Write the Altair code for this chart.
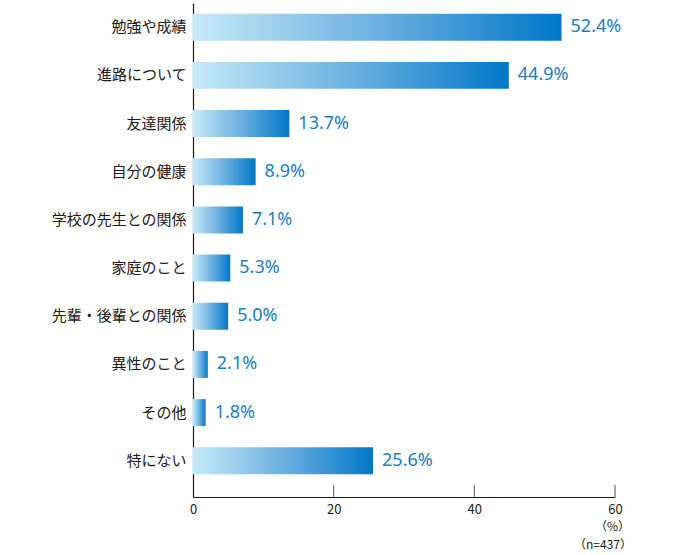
import altair as alt
import pandas as pd

categories = ["勉強や成績", "進路について", "友達関係", "自分の健康", "学校の先生との関係",
              "家庭のこと", "先輩・後輩との関係", "異性のこと", "その他", "特にない"]
values = [52.4, 44.9, 13.7, 8.9, 7.1, 5.3, 5.0, 2.1, 1.8, 25.6]
x_tick_labels = [0, 20, 40, 60]
x_tick_marks = [20, 40, 60]
notes = ["（%）", "（n=437）"]

W, H = 422, 494

df = pd.DataFrame({
    "cat": categories,
    "val": values,
    "label": [f"{v:.1f}%" for v in values],
})
ticks_df = pd.DataFrame({"t": x_tick_marks})

grad = alt.LinearGradient(
    gradient="linear",
    stops=[
        alt.GradientStop(color="#c6eaf8", offset=0),
        alt.GradientStop(color="#6cb0e0", offset=0.5),
        alt.GradientStop(color="#0077c8", offset=1),
    ],
    x1=0, x2=1, y1=0, y2=0,
)

y_enc = alt.Y(
    "cat:N", sort=categories,
    scale=alt.Scale(paddingInner=0.44, paddingOuter=0.347, align=0.32),
    axis=alt.Axis(title=None, ticks=False, tickSize=0, labelFontSize=15,
                  labelFont="Noto Sans CJK JP", labelColor="#231815",
                  labelPadding=7, domainColor="#231815", domainWidth=1.2),
)
x_enc = alt.X(
    "val:Q",
    scale=alt.Scale(domain=[0, 60], nice=False),
    axis=alt.Axis(title=None, values=x_tick_labels, ticks=False, tickSize=0,
                  grid=False, labelFontSize=13, labelFont="Noto Sans CJK JP",
                  labelColor="#231815", labelPadding=6, domainColor="#231815",
                  domainWidth=1.2, labelFlush=False),
)

bars = alt.Chart(df).mark_bar(color=grad).encode(x=x_enc, y=y_enc)

texts = alt.Chart(df).mark_text(
    align="left", baseline="middle", dx=9, fontSize=18,
    font="Noto Sans", color="#1b7dc2"
).encode(x="val:Q", y=alt.Y("cat:N", sort=categories), text="label:N")

tick_rules = alt.Chart(ticks_df).mark_rule(color="#555555", strokeWidth=1).encode(
    x="t:Q", y=alt.value(H - 12), y2=alt.value(H)
)

note1 = alt.Chart(pd.DataFrame({"n": [notes[0]]})).mark_text(
    align="right", baseline="middle", fontSize=12, font="Noto Sans CJK JP", color="#231815"
).encode(x=alt.value(W + 15), y=alt.value(H + 30), text="n:N")
note2 = alt.Chart(pd.DataFrame({"n": [notes[1]]})).mark_text(
    align="right", baseline="middle", fontSize=12, font="Noto Sans CJK JP", color="#231815"
).encode(x=alt.value(W + 17), y=alt.value(H + 48), text="n:N")

chart = alt.layer(bars, texts, tick_rules, note1, note2).properties(
    width=W, height=H,
    autosize=alt.AutoSizeParams(type="none"),
    padding={"left": 193, "top": 3, "right": 65, "bottom": 58},
    background="white",
).configure_view(stroke=None)

chart.save("out.html", embed_options={"renderer": "svg", "actions": False})
